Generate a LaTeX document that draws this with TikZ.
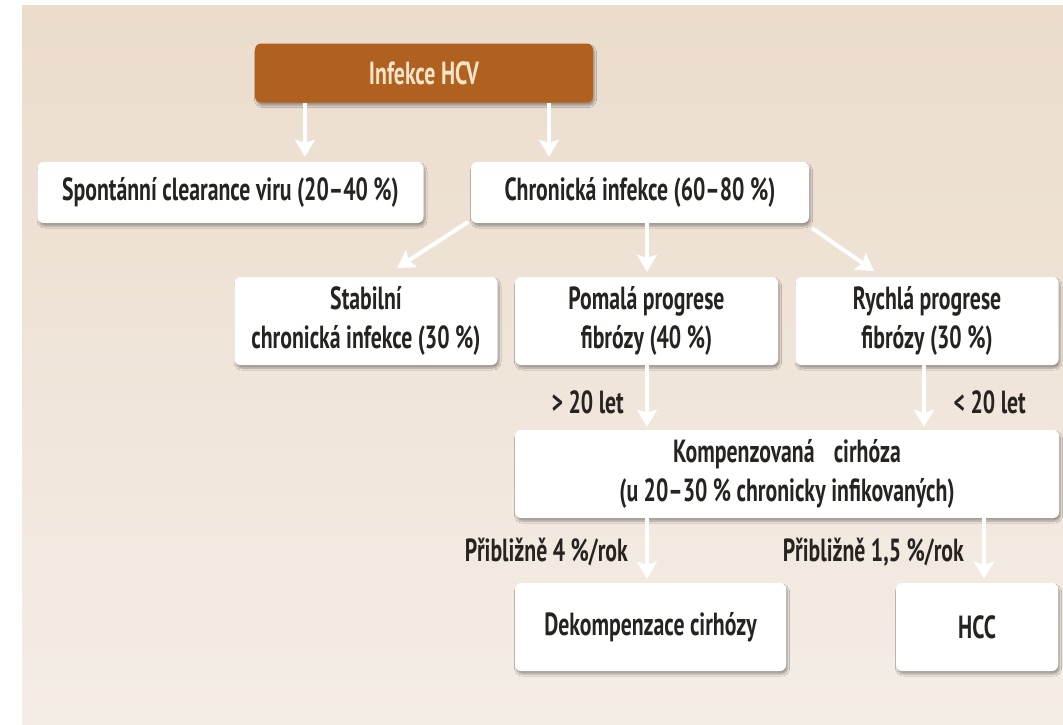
\documentclass[tikz,border=0pt]{standalone}
\usepackage{fontspec}
\setmainfont{PT Sans}[FakeStretch=0.68]
\usetikzlibrary{arrows.meta,shadows.blur}
\definecolor{bgtop}{HTML}{EBDCCC}
\definecolor{bgbot}{HTML}{F4EDE6}
\definecolor{hcvbrown}{HTML}{B0601F}
\definecolor{cream}{HTML}{F5E4C8}
\definecolor{txt}{HTML}{262321}
\begin{document}
\begin{tikzpicture}[x=1pt,y=-1pt,
  basefont/.style={font=\fontsize{32}{39}\selectfont\bfseries},
  box/.style={basefont, fill=white, rounded corners=6pt, align=center, inner sep=0pt,
    text=txt, blur shadow={shadow xshift=1.5pt, shadow yshift=-3pt, shadow opacity=35, shadow blur steps=6}},
  topbox/.style={box, fill=hcvbrown, text=cream},
  lbl/.style={basefont, text=txt, inner sep=0pt},
  arr/.style={draw=white, line width=4pt, -{Stealth[length=17pt,width=20pt,inset=3pt]}}
]
\useasboundingbox (0,0) rectangle (1063,724);
\fill[white] (0,0) rectangle (1063,724);
\shade[top color=bgtop, bottom color=bgbot] (22,5) rectangle (1063,724);

\node[topbox, minimum width=338pt, minimum height=59pt] (hcv) at (424,73) {Infekce HCV};
\node[box, minimum width=386pt, minimum height=61pt] (spont) at (230.5,192.5) {Spontánní clearance viru (20–40 \%)};
\node[box, minimum width=338pt, minimum height=61pt] (chron) at (640,192.5) {Chronická infekce (60–80 \%)};
\node[box, minimum width=263pt, minimum height=88pt] (stab) at (366,321) {Stabilní\\chronická infekce (30 \%)};
\node[box, minimum width=263pt, minimum height=88pt] (pom) at (646.5,321) {Pomalá progrese\\fibrózy (40 \%)};
\node[box, minimum width=263pt, minimum height=88pt] (rych) at (927,321) {Rychlá progrese\\fibrózy (30 \%)};
\node[box, minimum width=544pt, minimum height=88pt] (komp) at (787,474) {Kompenzovaná\hspace{0.6em}cirhóza\\(u 20–30 \% chronicky infikovaných)};
\node[box, minimum width=271pt, minimum height=88pt] (dek) at (650.5,627) {Dekompenzace cirhózy};
\node[box, minimum width=162pt, minimum height=88pt] (hcc) at (977,627) {HCC};

\node[lbl, anchor=east] (l1) at (624,402) {> 20 let};
\node[lbl, anchor=east] (l2) at (1026,402) {< 20 let};
\node[lbl, anchor=east] (l3) at (628,552) {Přibližně 4 \%/rok};
\node[lbl, anchor=east] (l4) at (964,552) {Přibližně 1,5 \%/rok};

\coordinate (c1) at (468,222);
\coordinate (c2) at (397,268);
\coordinate (c3) at (812,228);
\coordinate (c4) at (874,271);

\draw[arr] (hcv.south -| 305,0) -- ([yshift=5pt]spont.north -| 305,0);
\draw[arr] (hcv.south -| 549,0) -- ([yshift=5pt]chron.north -| 549,0);
\draw[arr] (c1) -- (c2);
\draw[arr] (chron.south -| 647,0) -- ([yshift=5pt]pom.north -| 647,0);
\draw[arr] (c3) -- (c4);
\draw[arr] (pom.south -| 647,0) -- ([yshift=3pt]komp.north -| 647,0);
\draw[arr] (rych.south -| 924,0) -- ([yshift=3pt]komp.north -| 924,0);
\draw[arr] (komp.south -| 647,0) -- ([yshift=4pt]dek.north -| 647,0);
\draw[arr] (komp.south -| 984,0) -- ([yshift=4pt]hcc.north -| 984,0);
\end{tikzpicture}
\end{document}
